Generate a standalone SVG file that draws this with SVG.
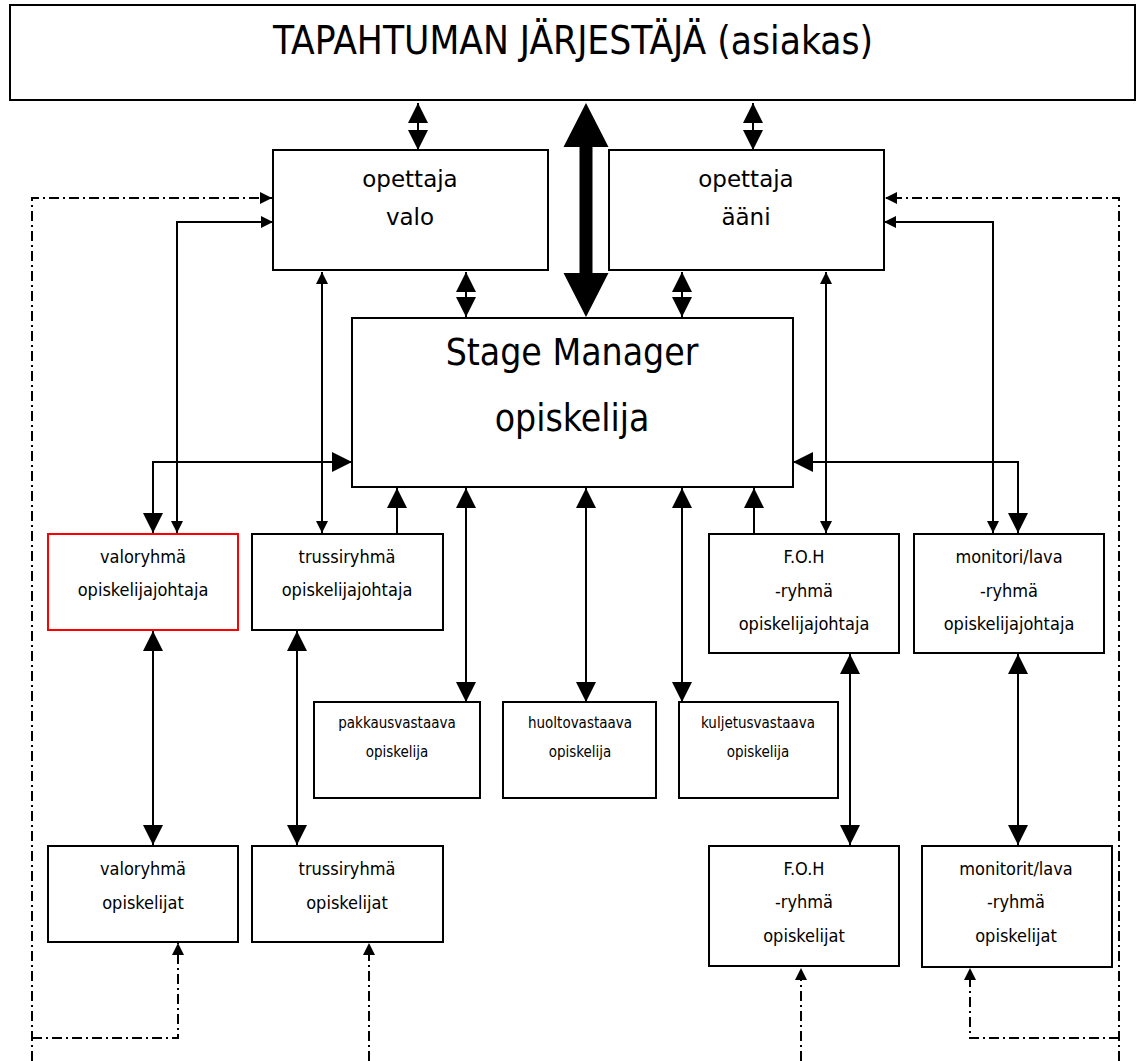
<svg xmlns="http://www.w3.org/2000/svg" width="1137" height="1061" viewBox="0 0 1137 1061">
  <style>
    .box { fill: #ffffff; stroke: #000000; stroke-width: 2; }
    .red { stroke: #ff0000; }
    text { font-family: "DejaVu Sans", "Liberation Sans", sans-serif; font-stretch: condensed; fill: #000000; text-anchor: middle; }
    .t38 { font-size: 38.5px; }
    .t37 { font-size: 37px; }
    .t21 { font-size: 23px; font-stretch: normal; }
    .t17 { font-size: 18px; }
    .t14 { font-size: 15px; }
    .ln { fill: none; stroke: #000000; stroke-width: 2; }
    .dd { fill: none; stroke: #000000; stroke-width: 2; stroke-dasharray: 10 4 2 4; }
    .big2 { marker-start: url(#bigHead); marker-end: url(#bigHead); }
    .big1 { marker-end: url(#bigHead); }
    .sm2 { marker-start: url(#smallHead); marker-end: url(#smallHead); }
    .sm1 { marker-end: url(#smallHead); }
  </style>
  <defs>
    <marker id="bigHead" markerUnits="userSpaceOnUse" markerWidth="20" markerHeight="20" refX="20" refY="10" orient="auto-start-reverse" viewBox="0 0 20 20">
      <path d="M0,0 L20,10 L0,20 z" fill="#000000"/>
    </marker>
    <marker id="smallHead" markerUnits="userSpaceOnUse" markerWidth="12" markerHeight="12" refX="12" refY="6" orient="auto-start-reverse" viewBox="0 0 12 12">
      <path d="M0,0 L12,6 L0,12 z" fill="#000000"/>
    </marker>
  </defs>

  <!-- connectors -->
  <g id="connectors">
    <line class="ln big2" x1="418" y1="103" x2="418" y2="150"/>
    <line class="ln big2" x1="753" y1="103" x2="753" y2="150"/>
    <line class="ln big2" x1="466" y1="272" x2="466" y2="317"/>
    <line class="ln big2" x1="682" y1="272" x2="682" y2="317"/>
    <!-- heavy double arrow between client and stage manager -->
    <polygon points="586,103 608.5,147 592.5,147 592.5,273 608.5,273 586,317 563.5,273 579.5,273 579.5,147 563.5,147" fill="#000000"/>

    <path class="ln sm2" d="M273,222 H177 V533"/>
    <path class="ln big2" d="M352,462 H153 V533"/>
    <line class="ln sm2" x1="322" y1="272" x2="322" y2="533"/>
    <line class="ln big1" x1="397" y1="533" x2="397" y2="488"/>
    <line class="ln big2" x1="466" y1="488" x2="466" y2="702"/>
    <line class="ln big2" x1="586" y1="488" x2="586" y2="702"/>
    <line class="ln big2" x1="682" y1="488" x2="682" y2="702"/>
    <line class="ln big1" x1="754" y1="533" x2="754" y2="488"/>
    <line class="ln sm2" x1="826" y1="272" x2="826" y2="533"/>
    <path class="ln big2" d="M793,462 H1018 V533"/>
    <path class="ln sm2" d="M884,222 H993 V533"/>

    <line class="ln big2" x1="153" y1="631" x2="153" y2="845"/>
    <line class="ln big2" x1="297" y1="631" x2="297" y2="845"/>
    <line class="ln big2" x1="850" y1="654" x2="850" y2="845"/>
    <line class="ln big2" x1="1018" y1="654" x2="1018" y2="845"/>

    <path class="dd sm1" d="M32,1061 V198 H272"/>
    <path class="dd sm1" d="M32,1038 H178 V943"/>
    <path class="dd sm1" d="M369,1061 V943"/>
    <path class="dd sm1" d="M1119,1061 V198 H885"/>
    <path class="dd sm1" d="M1119,1038 H970 V968"/>
    <path class="dd sm1" d="M801,1061 V968"/>
  </g>

  <!-- nodes -->
  <g id="client">
    <rect class="box" x="10" y="5" width="1125" height="95"/>
    <text class="t38" x="573" y="54">TAPAHTUMAN JÄRJESTÄJÄ (asiakas)</text>
  </g>
  <g id="teacher-light">
    <rect class="box" x="273" y="150" width="275" height="120"/>
    <text class="t21" x="410" y="187">opettaja</text>
    <text class="t21" x="410" y="225">valo</text>
  </g>
  <g id="teacher-sound">
    <rect class="box" x="609" y="150" width="275" height="120"/>
    <text class="t21" x="746" y="187">opettaja</text>
    <text class="t21" x="746" y="225">ääni</text>
  </g>
  <g id="stage-manager">
    <rect class="box" x="352" y="318" width="441" height="169"/>
    <text class="t37" x="572" y="365">Stage Manager</text>
    <text class="t37" x="572" y="431">opiskelija</text>
  </g>
  <g id="light-lead">
    <rect class="box red" x="48" y="534" width="190" height="96"/>
    <text class="t17" x="143" y="563">valoryhmä</text>
    <text class="t17" x="143" y="596">opiskelijajohtaja</text>
  </g>
  <g id="truss-lead">
    <rect class="box" x="252" y="534" width="191" height="96"/>
    <text class="t17" x="347" y="563">trussiryhmä</text>
    <text class="t17" x="347" y="596">opiskelijajohtaja</text>
  </g>
  <g id="packing">
    <rect class="box" x="314" y="702" width="166" height="96"/>
    <text class="t14" x="397" y="728">pakkausvastaava</text>
    <text class="t14" x="397" y="757">opiskelija</text>
  </g>
  <g id="maintenance">
    <rect class="box" x="503" y="702" width="153" height="96"/>
    <text class="t14" x="580" y="728">huoltovastaava</text>
    <text class="t14" x="580" y="757">opiskelija</text>
  </g>
  <g id="transport">
    <rect class="box" x="679" y="702" width="159" height="96"/>
    <text class="t14" x="758" y="728">kuljetusvastaava</text>
    <text class="t14" x="758" y="757">opiskelija</text>
  </g>
  <g id="foh-lead">
    <rect class="box" x="709" y="534" width="190" height="119"/>
    <text class="t17" x="804" y="563">F.O.H</text>
    <text class="t17" x="804" y="597">-ryhmä</text>
    <text class="t17" x="804" y="630">opiskelijajohtaja</text>
  </g>
  <g id="monitor-lead">
    <rect class="box" x="914" y="534" width="190" height="119"/>
    <text class="t17" x="1009" y="563">monitori/lava</text>
    <text class="t17" x="1009" y="597">-ryhmä</text>
    <text class="t17" x="1009" y="630">opiskelijajohtaja</text>
  </g>
  <g id="light-crew">
    <rect class="box" x="48" y="846" width="190" height="96"/>
    <text class="t17" x="143" y="875">valoryhmä</text>
    <text class="t17" x="143" y="909">opiskelijat</text>
  </g>
  <g id="truss-crew">
    <rect class="box" x="252" y="846" width="191" height="96"/>
    <text class="t17" x="347" y="875">trussiryhmä</text>
    <text class="t17" x="347" y="909">opiskelijat</text>
  </g>
  <g id="foh-crew">
    <rect class="box" x="709" y="846" width="190" height="120"/>
    <text class="t17" x="804" y="875">F.O.H</text>
    <text class="t17" x="804" y="908">-ryhmä</text>
    <text class="t17" x="804" y="942">opiskelijat</text>
  </g>
  <g id="monitor-crew">
    <rect class="box" x="922" y="846" width="190" height="121"/>
    <text class="t17" x="1016" y="875">monitorit/lava</text>
    <text class="t17" x="1016" y="908">-ryhmä</text>
    <text class="t17" x="1016" y="942">opiskelijat</text>
  </g>
</svg>
